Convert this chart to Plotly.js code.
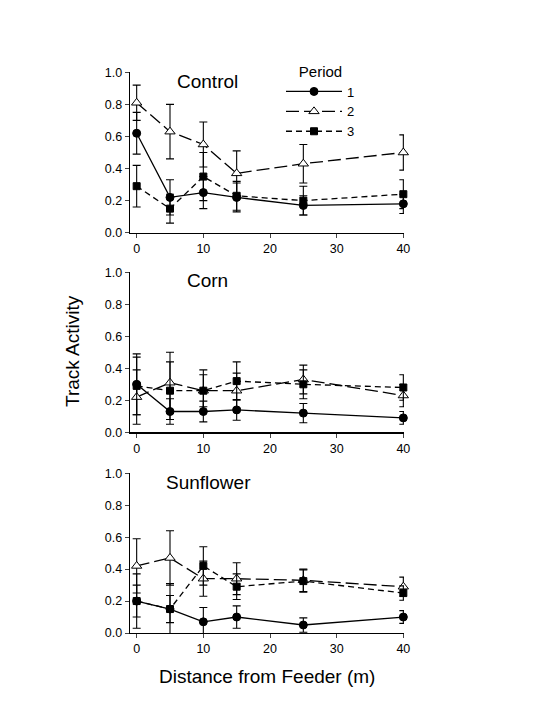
<!DOCTYPE html>
<html><head><meta charset="utf-8">
<script src="https://cdn.plot.ly/plotly-3.0.1.min.js"></script>
<style>html,body{margin:0;padding:0;background:#fff}#chart{width:535px;height:709px}</style>
</head><body><div id="chart"></div>
<script>
const distance = [0, 5, 10, 15, 25, 40];
const periods = ["1", "2", "3"];
const panels = ["Control", "Corn", "Sunflower"];
const xTicks = [0, 10, 20, 30, 40];
const yTicks = [0, 0.2, 0.4, 0.6, 0.8, 1.0];

// Control
const control_p1 = [0.62, 0.22, 0.25, 0.22, 0.17, 0.18];
const control_p1_err = [0.13, 0.11, 0.10, 0.09, 0.06, 0.06];
const control_p2 = [0.81, 0.63, 0.55, 0.37, 0.43, 0.50];
const control_p2_err = [0.11, 0.17, 0.14, 0.14, 0.12, 0.11];
const control_p3 = [0.29, 0.15, 0.35, 0.23, 0.20, 0.24];
const control_p3_err = [0.13, 0.09, 0.15, 0.09, 0.09, 0.09];
// Corn
const corn_p1 = [0.30, 0.13, 0.13, 0.14, 0.12, 0.09];
const corn_p1_err = [0.19, 0.08, 0.065, 0.065, 0.06, 0.04];
const corn_p2 = [0.22, 0.31, 0.26, 0.26, 0.33, 0.23];
const corn_p2_err = [0.17, 0.19, 0.10, 0.11, 0.09, 0.07];
const corn_p3 = [0.29, 0.26, 0.26, 0.32, 0.30, 0.28];
const corn_p3_err = [0.18, 0.18, 0.13, 0.12, 0.09, 0.08];
// Sunflower
const sun_p1 = [0.20, 0.15, 0.07, 0.10, 0.05, 0.10];
const sun_p1_err = [0.10, 0.085, 0.09, 0.07, 0.045, 0.04];
const sun_p2 = [0.42, 0.47, 0.34, 0.34, 0.33, 0.29];
const sun_p2_err = [0.17, 0.17, 0.11, 0.10, 0.07, 0.06];
const sun_p3 = [0.20, 0.15, 0.42, 0.29, 0.325, 0.25];
const sun_p3_err = [0.17, 0.16, 0.12, 0.08, 0.07, 0.045];

const panelData = [
  [[control_p1, control_p1_err], [control_p2, control_p2_err], [control_p3, control_p3_err]],
  [[corn_p1, corn_p1_err], [corn_p2, corn_p2_err], [corn_p3, corn_p3_err]],
  [[sun_p1, sun_p1_err], [sun_p2, sun_p2_err], [sun_p3, sun_p3_err]]
];

const styles = [
  {dash: "solid", symbol: "circle", size: 8, fill: "#000"},
  {dash: "13px,5px", symbol: "triangle-up", size: 9, fill: "#fff"},
  {dash: "6px,4px", symbol: "square", size: 7, fill: "#000"}
];

const traces = [];
panelData.forEach((series, pi) => {
  const ax = pi === 0 ? "" : String(pi + 1);
  series.forEach((s, si) => {
    const st = styles[si];
    traces.push({
      x: distance, y: s[0],
      xaxis: "x" + ax, yaxis: "y" + ax,
      type: "scatter", mode: "lines+markers",
      name: periods[si],
      showlegend: pi === 0,
      cliponaxis: false,
      line: {color: "#000", width: 1.3, dash: st.dash},
      marker: {symbol: st.symbol, size: st.size, color: st.fill,
               line: {color: "#000", width: 1}},
      error_y: {type: "data", array: s[1], visible: true, color: "#000", thickness: 1.1, width: 4}
    });
  });
});

const fontFam = "Liberation Sans, Arial, sans-serif";
const xDom = [130/535, 404/535];
const yDoms = [[1-232.7/709, 1-72.3/709], [1-432.3/709, 1-272.3/709], [1-633/709, 1-473.3/709]];

const layout = {
  width: 535, height: 709,
  margin: {l: 0, r: 0, t: 0, b: 0},
  paper_bgcolor: "#fff", plot_bgcolor: "#fff",
  font: {family: fontFam, color: "#000", size: 12},
  showlegend: true,
  legend: {
    x: 281/535, y: 1-57/709, xanchor: "left", yanchor: "top",
    bgcolor: "rgba(0,0,0,0)", borderwidth: 0,
    font: {size: 13, family: fontFam},
    title: {text: "Period", side: "top center", font: {size: 15, family: fontFam}},
    itemwidth: 56, tracegroupgap: 0
  },
  annotations: [
    {text: "Track Activity", xref: "paper", yref: "paper", x: 72/535, y: 1-351/709,
     textangle: -90, showarrow: false, xanchor: "center", yanchor: "middle",
     font: {size: 19, family: fontFam}},
    {text: "Distance from Feeder (m)", xref: "paper", yref: "paper", x: 266.5/535, y: 1-676/709,
     showarrow: false, xanchor: "center", yanchor: "middle",
     font: {size: 19, family: fontFam}}
  ]
};

for (let i = 0; i < 3; i++) {
  const ax = i === 0 ? "" : String(i + 1);
  layout["xaxis" + ax] = {
    domain: xDom, range: [-1, 40.1], anchor: "y" + ax,
    tickvals: xTicks, ticks: "outside", ticklen: 4, tickwidth: 1,
    showline: true, linecolor: "#000", linewidth: 1.3, showgrid: false, zeroline: false,
    tickfont: {size: 12.5, family: fontFam}
  };
  layout["yaxis" + ax] = {
    domain: yDoms[i], range: [0, 1.0], anchor: "x" + ax,
    tickvals: yTicks, tickformat: ".1f", ticks: "outside", ticklen: 4, tickwidth: 1,
    showline: true, linecolor: "#000", linewidth: 1.3, showgrid: false, zeroline: false,
    tickfont: {size: 12.5, family: fontFam}
  };
  layout.annotations.push({
    text: panels[i], xref: "x" + ax, yref: "y" + ax, showarrow: false,
    x: [10.6, 10.6, 10.7][i], y: [0.944, 0.947, 0.941][i], xanchor: "center", yanchor: "middle",
    font: {size: 19, family: fontFam}
  });
}

Plotly.newPlot("chart", traces, layout, {displayModeBar: false, staticPlot: true});
</script></body></html>
